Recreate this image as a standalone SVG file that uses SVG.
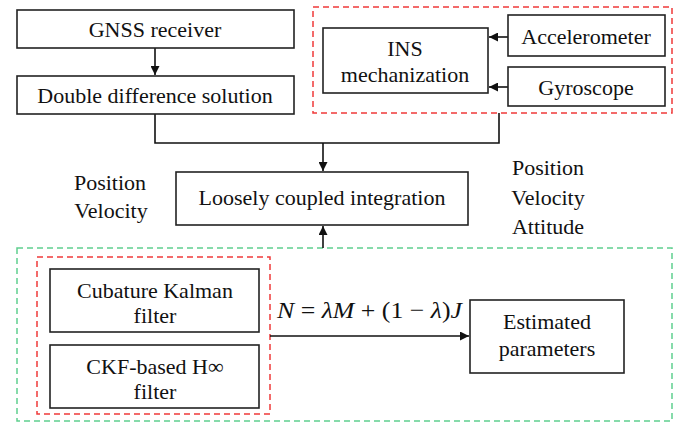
<svg xmlns="http://www.w3.org/2000/svg" width="675" height="423" viewBox="0 0 675 423">
<defs>
<style>
.box{fill:#fff;stroke:#222;stroke-width:1.6}
.t{font-family:"Liberation Serif","Times New Roman",serif;font-size:22px;fill:#111;text-anchor:middle}
.eq{font-family:"Liberation Serif","Times New Roman",serif;font-size:24px;fill:#111}
.it{font-style:italic}
.red{fill:none;stroke:#f03a3a;stroke-width:1.5;stroke-dasharray:6,4}
.green{fill:none;stroke:#5fcf8f;stroke-width:1.5;stroke-dasharray:6,4}
.c{fill:none;stroke:#111;stroke-width:1.6}
</style>
<marker id="ah2" viewBox="0 0 10 10" refX="10" refY="5" markerWidth="9" markerHeight="9" markerUnits="userSpaceOnUse" orient="auto"><path d="M0,0L10,5L0,10z" fill="#111"/></marker>
</defs>
<rect width="675" height="423" fill="#fff"/>
<g id="groups">
<rect id="ins-group" class="red" x="313" y="7" width="359" height="106"/>
<rect id="filter-area" class="green" x="17" y="248" width="655" height="173"/>
<rect id="filter-group" class="red" x="37" y="257" width="233" height="157"/>
</g>
<g id="connectors">
<path class="c" d="M155,48V75" marker-end="url(#ah2)"/>
<path class="c" d="M155,114V143H499V113"/>
<path class="c" d="M323,143V171" marker-end="url(#ah2)"/>
<path class="c" d="M323,248V226" marker-end="url(#ah2)"/>
<path class="c" d="M508,37H489" marker-end="url(#ah2)"/>
<path class="c" d="M508,87H489" marker-end="url(#ah2)"/>
<path class="c" d="M270,336H469" marker-end="url(#ah2)"/>
</g>
<g id="gnss"><rect class="box" x="17" y="10" width="277" height="38"/><text class="t" x="155" y="37">GNSS receiver</text></g>
<g id="dd"><rect class="box" x="17" y="76" width="277" height="38"/><text class="t" x="155" y="103">Double difference solution</text></g>
<g id="ins"><rect class="box" x="323" y="28" width="165" height="65"/><text class="t" x="405" y="56">INS</text><text class="t" x="405" y="82">mechanization</text></g>
<g id="acc"><rect class="box" x="508" y="15" width="157" height="41"/><text class="t" x="586" y="44">Accelerometer</text></g>
<g id="gyro"><rect class="box" x="508" y="67" width="157" height="39"/><text class="t" x="586" y="95">Gyroscope</text></g>
<g id="lci"><rect class="box" x="176" y="172" width="292" height="53"/><text class="t" x="322" y="205">Loosely coupled integration</text></g>
<g id="labels">
<text class="t" x="110" y="190">Position</text>
<text class="t" x="111" y="218">Velocity</text>
<text class="t" x="548" y="175">Position</text>
<text class="t" x="548" y="205">Velocity</text>
<text class="t" x="548" y="234">Attitude</text>
</g>
<g id="ckf"><rect class="box" x="50" y="269" width="209" height="63"/><text class="t" x="155" y="298">Cubature Kalman</text><text class="t" x="155" y="323">filter</text></g>
<g id="hinf"><rect class="box" x="50" y="345" width="209" height="63"/><text class="t" x="155" y="374">CKF-based H∞</text><text class="t" x="155" y="399">filter</text></g>
<g id="eq"><text class="eq" x="277" y="318" textLength="185" lengthAdjust="spacingAndGlyphs"><tspan class="it">N</tspan> = <tspan class="it">λM</tspan> + (1 − <tspan class="it">λ</tspan>)<tspan class="it">J</tspan></text></g>
<g id="est"><rect class="box" x="470" y="300" width="154" height="73"/><text class="t" x="547" y="329">Estimated</text><text class="t" x="547" y="356">parameters</text></g>
</svg>
